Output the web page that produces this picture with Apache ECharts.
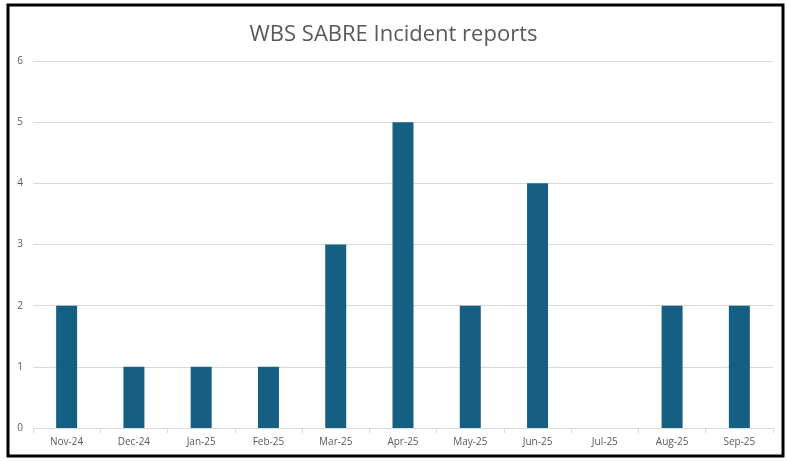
<!DOCTYPE html>
<html>
<head>
<meta charset="utf-8">
<title>WBS SABRE Incident reports</title>
<script src="https://cdn.jsdelivr.net/npm/echarts@6/dist/echarts.min.js"></script>
<style>
  html, body { margin: 0; padding: 0; background: #fff; }
  #chart { width: 787px; height: 461px; }
</style>
</head>
<body>
<div id="chart"></div>
<script>
// data
const months = ['Nov-24', 'Dec-24', 'Jan-25', 'Feb-25', 'Mar-25', 'Apr-25', 'May-25', 'Jun-25', 'Jul-25', 'Aug-25', 'Sep-25'];
const incidents = [2, 1, 1, 1, 3, 5, 2, 4, 0, 2, 2];
const yTicks = [0, 1, 2, 3, 4, 5, 6];

const myChart = echarts.init(document.getElementById('chart'));

const grey = '#595959';
const lineGrey = '#d9d9d9';

const option = {
  animation: false,
  textStyle: { fontFamily: 'Open Sans, sans-serif' },
  title: {
    text: 'WBS SABRE Incident reports',
    left: 'center',
    top: 19,
    textStyle: { fontSize: 22, fontWeight: 'normal', color: grey, fontFamily: 'Open Sans, sans-serif' }
  },
  // frame round the whole chart
  graphic: [{
    type: 'rect',
    shape: { x: 8, y: 5, width: 775, height: 451 },
    style: { fill: 'none', stroke: '#000', lineWidth: 3 },
    silent: true
  }],
  grid: { left: 33, right: 14, top: 61, bottom: 33 },
  xAxis: {
    type: 'category',
    data: months,
    axisLine: { lineStyle: { color: lineGrey } },
    axisTick: { show: true, length: 5, lineStyle: { color: lineGrey } },
    axisLabel: { color: grey, fontSize: 10, margin: 9 }
  },
  yAxis: {
    type: 'value',
    min: yTicks[0],
    max: yTicks[yTicks.length - 1],
    interval: 1,
    axisLine: { show: false },
    axisTick: { show: false },
    axisLabel: { color: grey, fontSize: 10, margin: 10 },
    splitLine: { lineStyle: { color: lineGrey } }
  },
  series: [{
    name: 'Incidents',
    type: 'bar',
    data: incidents,
    barWidth: 21,
    itemStyle: { color: '#156082' }
  }]
};

myChart.setOption(option);
</script>
</body>
</html>
